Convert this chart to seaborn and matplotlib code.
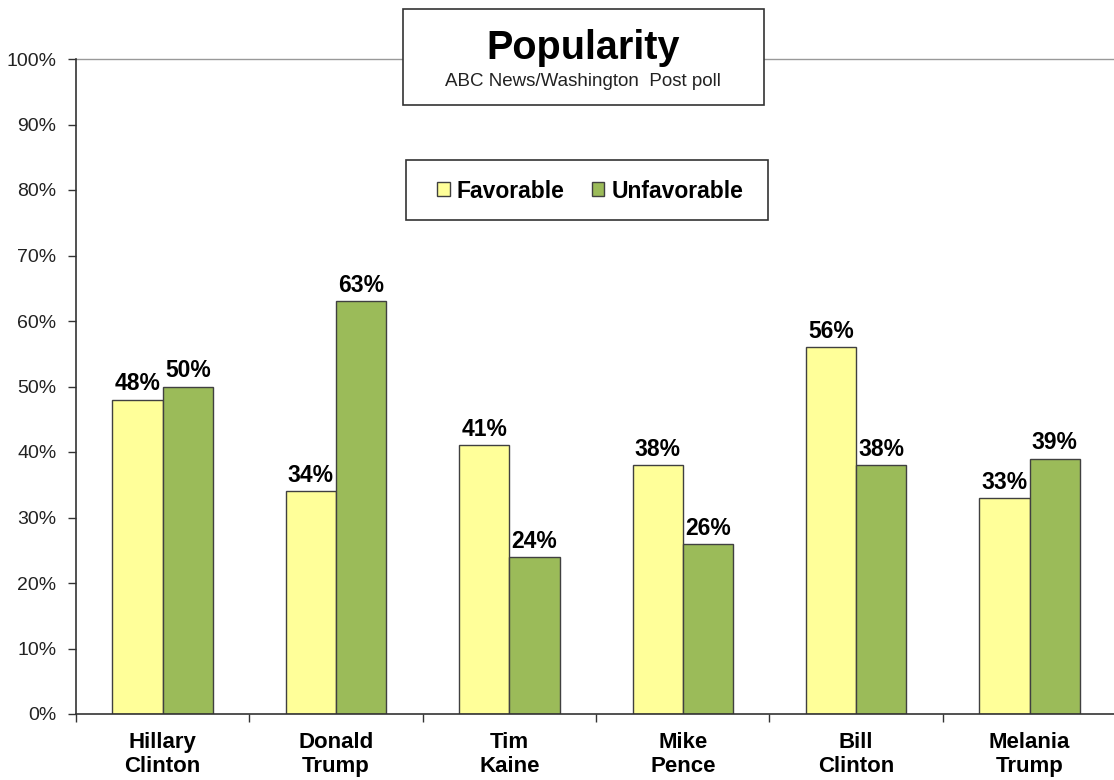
import matplotlib
matplotlib.use("Agg")
import matplotlib.pyplot as plt
import seaborn as sns
import pandas as pd
from matplotlib.patches import Rectangle, Patch

categories = ["Hillary\nClinton", "Donald\nTrump", "Tim\nKaine", "Mike\nPence", "Bill\nClinton", "Melania\nTrump"]
favorable = [48, 34, 41, 38, 56, 33]
unfavorable = [50, 63, 24, 26, 38, 39]
series = ["Favorable", "Unfavorable"]
colors = ["#FFFF99", "#9BBB59"]
y_ticks = [0, 10, 20, 30, 40, 50, 60, 70, 80, 90, 100]

sns.set_theme(style="white")
plt.rcParams['font.family'] = ['Liberation Sans', 'DejaVu Sans']

df = pd.DataFrame({
    "cat": categories * 2,
    "series": [series[0]] * len(categories) + [series[1]] * len(categories),
    "value": favorable + unfavorable,
})

W, H = 1114, 780
fig = plt.figure(figsize=(W / 100, H / 100), dpi=100)
ax = fig.add_axes([76 / W, 1 - 714 / H, 1 - 76 / W + 0.002, (714 - 59) / H])

sns.barplot(data=df, x="cat", y="value", hue="series", palette=colors,
            width=0.58, edgecolor="#404040", linewidth=1.0, ax=ax, saturation=1)
if ax.get_legend():
    ax.get_legend().remove()

for cont in ax.containers:
    ax.bar_label(cont, labels=[f"{v:.0f}%" for v in cont.datavalues],
                 padding=3, fontsize=16.5, fontweight="bold", color="black")

ax.set_xlim(-0.5, len(categories) - 0.5)
ax.set_ylim(0, 100)
ax.set_yticks(y_ticks)
ax.set_yticklabels([f"{t}%" for t in y_ticks], fontsize=14, color="#222222")
ax.set_xlabel("")
ax.set_ylabel("")
ax.set_xticks(range(len(categories)))
ax.set_xticklabels(categories, fontsize=16, fontweight="bold", color="black", linespacing=1.2)
ax.set_xticks([i - 0.5 for i in range(len(categories) + 1)], minor=True)
ax.tick_params(axis="x", which="major", length=0, pad=13)
ax.tick_params(axis="x", which="minor", length=6, width=1, color="#333333", direction="out", bottom=True)
ax.tick_params(axis="y", which="major", length=6, width=1, color="#333333", direction="out", left=True, pad=8)

for s in ["top", "right"]:
    ax.spines[s].set_visible(False)
for s in ["left", "bottom"]:
    ax.spines[s].set_color("#333333")
    ax.spines[s].set_linewidth(1.2)
ax.axhline(100, color="#999999", linewidth=1.0, zorder=0, clip_on=False)

# Title box
tb = Rectangle((403 / W, 1 - 105 / H), (764 - 403) / W, (105 - 9) / H, transform=fig.transFigure,
               facecolor="white", edgecolor="#333333", linewidth=1.2, zorder=5)
fig.add_artist(tb)
fig.text(583 / W, 1 - 48 / H, "Popularity", ha="center", va="center", fontsize=28.5,
         fontweight="bold", color="black", zorder=6)
fig.text(583 / W, 1 - 82 / H, "ABC News/Washington  Post poll", ha="center", va="center",
         fontsize=13.5, color="#222222", zorder=6)

# Legend frame
lb = Rectangle((406 / W, 1 - 220 / H), (768 - 406) / W, (220 - 160) / H, transform=fig.transFigure,
               facecolor="white", edgecolor="#333333", linewidth=1.2, zorder=5)
fig.add_artist(lb)
handles = [Patch(facecolor=c, edgecolor="#404040", linewidth=1.0, label=s) for c, s in zip(colors, series)]
leg = fig.legend(handles=handles, loc="center", bbox_to_anchor=(590 / W, 1 - 191 / H), ncol=2,
                 frameon=False, handlelength=0.55, handleheight=0.55, handletextpad=0.3,
                 columnspacing=1.2, borderpad=0.2, prop={"weight": "bold", "size": 16.5})
leg.set_zorder(6)
for t in leg.get_texts():
    t.set_color("black")

fig.savefig("out.png", dpi=100)
